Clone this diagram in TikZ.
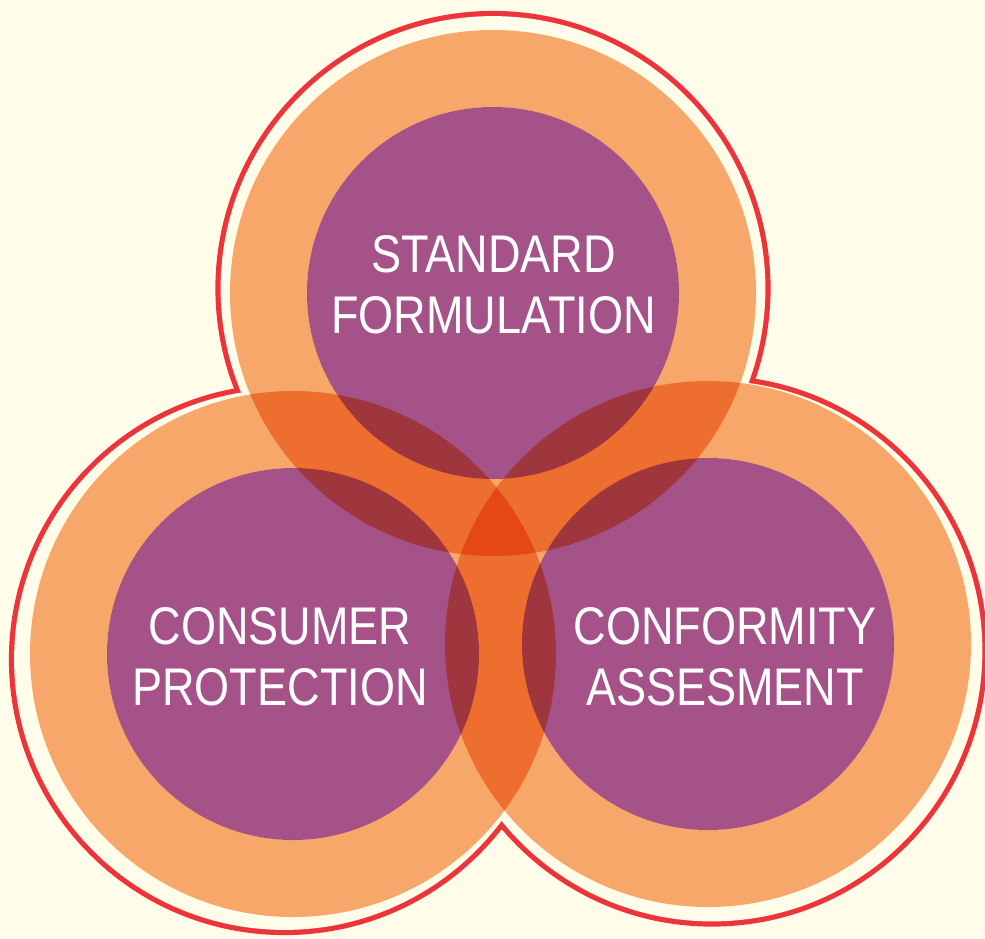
\documentclass[tikz,border=0pt]{standalone}
\usepackage{fontspec}
\newfontfamily\condfont[FakeStretch=0.85]{Liberation Sans}
\definecolor{bg}{HTML}{FFFDE9}
\definecolor{redline}{HTML}{EC343A}
\definecolor{purp}{HTML}{A55289}
\definecolor{orng}{RGB}{246,169,116}
\begin{document}
\begin{tikzpicture}[x=1pt,y=-1pt,
  txt/.style={font=\condfont\fontsize{53}{61}\selectfont, text=white, align=center, inner sep=0pt},
  ring/.style={fill=orng, even odd rule, blend mode=multiply}]
\fill[bg] (0,0) rectangle (985,938);
\useasboundingbox (0,0) rectangle (985,938);
% centres of the three circles
\coordinate (T) at (493,293);
\coordinate (L) at (293,654);
\coordinate (R) at (708,644);
% centres of the outline arcs
\coordinate (oT) at (493,288.5);
\coordinate (oL) at (284.5,659.5);
\coordinate (oR) at (712,651);
\foreach \c/\r in {oT/275, oL/273, oR/273} \fill[redline] (\c) circle[radius=\r pt+2.6pt];
\foreach \c/\r in {oT/275, oL/273, oR/273} \fill[bg] (\c) circle[radius=\r pt-2.6pt];
\foreach \c in {T,L,R} \fill[purp] (\c) circle[radius=186pt];
\foreach \c in {T,L,R} \path[ring] (\c) circle[radius=263pt] (\c) circle[radius=186pt];
\node[txt] (std) at (493.5,285) {STANDARD\\FORMULATION};
\node[txt] (cons) at (280,657) {CONSUMER\\PROTECTION};
\node[txt] (conf) at (725,657) {CONFORMITY\\ASSESMENT};
\end{tikzpicture}
\end{document}
